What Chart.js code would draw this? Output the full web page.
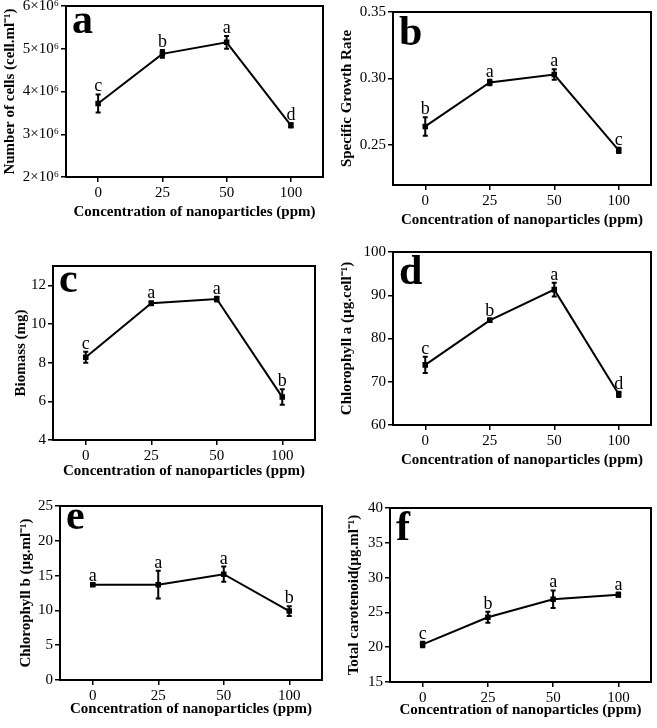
<!DOCTYPE html>
<html>
<head>
<meta charset="utf-8">
<script src="https://cdn.jsdelivr.net/npm/chart.js@4"></script>
<style>
  body { margin: 0; background: #fff; }
  #wrap { position: relative; width: 657px; height: 728px; background: #fff; }
  .panel { position: absolute; }
</style>
</head>
<body>
<div id="wrap"></div>
<script>
// DATA
const concentrations = ["0", "25", "50", "100"];
const x_title = "Concentration of nanoparticles (ppm)";

const cells_mean = [3.72e6, 4.88e6, 5.15e6, 3.21e6];
const cells_err = [0.21e6, 0.09e6, 0.15e6, 0.05e6];
const cells_sig = ["c", "b", "a", "d"];

const growth_mean = [0.264, 0.297, 0.303, 0.246];
const growth_err = [0.007, 0.002, 0.004, 0.002];
const growth_sig = ["b", "a", "a", "c"];

const biomass_mean = [8.28, 11.07, 11.29, 6.22];
const biomass_err = [0.28, 0.1, 0.12, 0.4];
const biomass_sig = ["c", "a", "a", "b"];

const chla_mean = [73.9, 84.2, 91.3, 67.1];
const chla_err = [1.9, 0.4, 1.6, 0.6];
const chla_sig = ["c", "b", "a", "d"];

const chlb_mean = [13.7, 13.7, 15.2, 9.9];
const chlb_err = [0.15, 2.0, 1.1, 0.7];
const chlb_sig = ["a", "a", "a", "b"];

const carot_mean = [20.4, 24.3, 26.9, 27.55];
const carot_err = [0.4, 0.8, 1.25, 0.3];
const carot_sig = ["c", "b", "a", "a"];

// PANEL SETUP (layout only)
const panels = [
  { letter: "a", mean: cells_mean, err: cells_err, sig: cells_sig,
    yTitle: "Number of cells (cell.ml⁻¹)", min: 2e6, max: 6e6, step: 1e6,
    fmt: v => (v / 1e6) + "×10⁶",
    canvas: [0, 0, 330, 230], box: [66, 6, 323, 177], yTitleX: 10, xTitleY: 17.7, letterY: 27 },
  { letter: "b", mean: growth_mean, err: growth_err, sig: growth_sig,
    yTitle: "Specific Growth Rate", min: 0.22, max: 0.35, step: 0.05,
    fmt: v => v.toFixed(2),
    canvas: [330, 0, 327, 230], box: [393, 12, 655, 185], yTitleX: 17.5, xTitleY: 10, letterY: 33 },
  { letter: "c", mean: biomass_mean, err: biomass_err, sig: biomass_sig,
    yTitle: "Biomass (mg)", min: 4, max: 13, step: 2,
    fmt: v => v,
    canvas: [0, 240, 330, 240], box: [53, 266, 315, 440], yTitleX: 21, xTitleY: 9, letterY: 26 },
  { letter: "d", mean: chla_mean, err: chla_err, sig: chla_sig,
    yTitle: "Chlorophyll a (µg.cell⁻¹)", min: 60, max: 100, step: 10,
    fmt: v => v,
    canvas: [330, 240, 327, 240], box: [393, 252, 654, 425], yTitleX: 17.5, xTitleY: 20, letterY: 32 },
  { letter: "e", mean: chlb_mean, err: chlb_err, sig: chlb_sig,
    yTitle: "Chlorophyll b (µg.ml⁻¹)", min: 0, max: 25, step: 5,
    fmt: v => v,
    canvas: [0, 480, 330, 248], box: [60, 506, 322, 680], yTitleX: 26, xTitleY: 18.7, letterY: 23 },
  { letter: "f", mean: carot_mean, err: carot_err, sig: carot_sig,
    yTitle: "Total carotenoid(µg.ml⁻¹)", min: 15, max: 40, step: 5,
    fmt: v => v,
    canvas: [330, 480, 327, 248], box: [390, 508, 653, 682], yTitleX: 24, xTitleY: 18, letterY: 32 },
];

Chart.defaults.font.family = "'Liberation Serif', 'Times New Roman', serif";
Chart.defaults.color = "#000";

// box around the plot area
const framePlugin = {
  id: "frame",
  afterDraw(chart) {
    const { ctx, chartArea: a } = chart;
    ctx.save();
    ctx.strokeStyle = "#000";
    ctx.lineWidth = 2;
    ctx.strokeRect(a.left, a.top, a.right - a.left, a.bottom - a.top);
    ctx.restore();
  }
};

// error bars, significance letters, panel letter
const errorPlugin = {
  id: "errbars",
  afterDatasetsDraw(chart) {
    const { ctx, scales: { x, y }, chartArea } = chart;
    const p = chart.options.plugins.errbars;
    ctx.save();
    ctx.strokeStyle = "#000";
    ctx.fillStyle = "#000";
    ctx.lineWidth = 2;
    p.mean.forEach((m, i) => {
      const px = x.getPixelForValue(i);
      const top = y.getPixelForValue(m + p.err[i]);
      const bot = y.getPixelForValue(m - p.err[i]);
      ctx.beginPath();
      ctx.moveTo(px, top); ctx.lineTo(px, bot);
      ctx.moveTo(px - 2.5, top); ctx.lineTo(px + 2.5, top);
      ctx.moveTo(px - 2.5, bot); ctx.lineTo(px + 2.5, bot);
      ctx.stroke();
      ctx.font = "18px 'Liberation Serif', serif";
      ctx.textAlign = "center";
      ctx.textBaseline = "alphabetic";
      ctx.fillText(p.sig[i], px, top - 3);
    });
    ctx.font = "bold 42px 'Liberation Serif', serif";
    ctx.textAlign = "left";
    ctx.fillText(p.letter, chartArea.left + 6, chartArea.top + p.letterY);
    ctx.restore();
  }
};

const wrap = document.getElementById("wrap");

panels.forEach(p => {
  const [cl, ct, cw, ch] = p.canvas;
  const [bl, bt, br, bb] = p.box;
  const div = document.createElement("div");
  div.className = "panel";
  div.style.left = cl + "px";
  div.style.top = ct + "px";
  div.style.width = cw + "px";
  div.style.height = ch + "px";
  const canvas = document.createElement("canvas");
  div.appendChild(canvas);
  wrap.appendChild(div);

  new Chart(canvas, {
    type: "line",
    data: {
      labels: concentrations,
      datasets: [{
        data: p.mean,
        borderColor: "#000",
        borderWidth: 2,
        pointStyle: "rect",
        pointRadius: 2.5,
        pointBackgroundColor: "#000",
        pointBorderColor: "#000",
        tension: 0,
      }]
    },
    options: {
      responsive: true,
      maintainAspectRatio: false,
      animation: false,
      layout: { padding: { left: 0, top: bt - ct, right: cl + cw - br, bottom: 0 } },
      plugins: {
        legend: { display: false },
        tooltip: { enabled: false },
        errbars: { mean: p.mean, err: p.err, sig: p.sig, letter: p.letter, letterY: p.letterY },
      },
      scales: {
        x: {
          type: "category",
          offset: true,
          grid: { drawOnChartArea: false, tickLength: 5, color: "#000", lineWidth: 1.5 },
          border: { color: "#000", width: 2 },
          ticks: { color: "#000", font: { size: 15 }, padding: 2, maxRotation: 0 },
          title: { display: true, text: x_title, color: "#000",
                   font: { size: 15, weight: "bold" }, padding: { top: 0, bottom: p.xTitleY - 9 } },
          afterFit: s => { s.height = ct + ch - bb; s.paddingLeft = 0; s.paddingRight = 0; },
        },
        y: {
          min: p.min,
          max: p.max,
          grid: { drawOnChartArea: false, tickLength: 5, color: "#000", lineWidth: 1.5 },
          border: { color: "#000", width: 2 },
          ticks: { color: "#000", font: { size: 15 }, padding: 2, stepSize: p.step,
                   includeBounds: false, callback: v => p.fmt(v) },
          title: { display: true, text: p.yTitle, color: "#000",
                   font: { size: 15, weight: "bold" }, padding: { top: p.yTitleX - 9, bottom: 0 } },
          afterFit: s => { s.width = bl - cl; s.paddingTop = 0; s.paddingBottom = 0; },
        }
      }
    },
    plugins: [framePlugin, errorPlugin]
  });
});
</script>
</body>
</html>
